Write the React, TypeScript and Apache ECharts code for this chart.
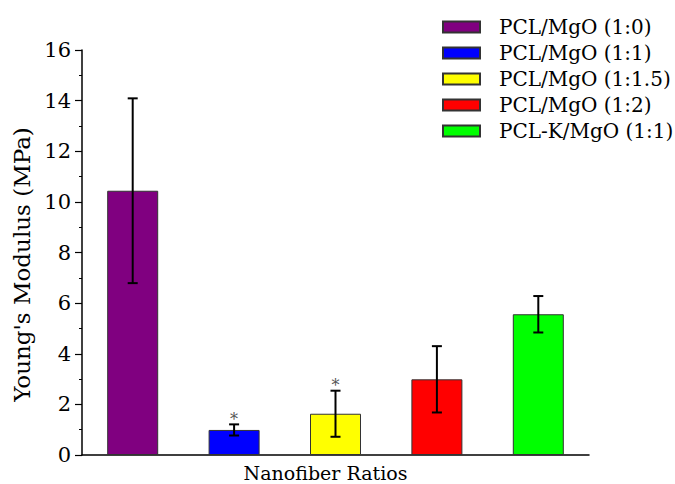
import React, { useEffect, useRef } from "react";
import * as echarts from "echarts";

const categories = ["PCL/MgO (1:0)", "PCL/MgO (1:1)", "PCL/MgO (1:1.5)", "PCL/MgO (1:2)", "PCL-K/MgO (1:1)"];
const means = [10.44, 0.99, 1.63, 2.99, 5.56];
const errors = [3.65, 0.22, 0.91, 1.31, 0.72];
const significance = ["", "*", "*", "", ""];
const colors = ["#800080", "#0000ff", "#ffff00", "#ff0000", "#00ff00"];
const yTicks = { min: 0, max: 16, interval: 2 };

const FONT = "DejaVu Serif";

export default function App() {
  const ref = useRef<HTMLDivElement>(null);
  useEffect(() => {
    document.body.style.margin = "0";
    if (!ref.current) return;
    const chart = echarts.init(ref.current, undefined, { renderer: "svg", width: 675, height: 484 });
    const barSeries = categories.map((name, i) => ({
      name,
      type: "bar",
      barWidth: 51,
      barGap: "-100%",
      itemStyle: { color: colors[i], borderColor: "#333", borderWidth: 1 },
      data: means.map((v, j) => (j === i ? v : "-")),
      z: 2,
    }));
    const errData = means.map((m, i) => [i, m - errors[i], m + errors[i], significance[i]]);
    chart.setOption({
      animation: false,
      backgroundColor: "#fff",
      textStyle: { fontFamily: FONT },
      grid: { left: 82, right: 86, top: 50, bottom: 29, outerBoundsMode: "none", containLabel: false },
      legend: {
        orient: "vertical",
        left: 437,
        top: 12,
        itemWidth: 37,
        itemHeight: 11,
        itemGap: 6,
        icon: "rect",
        data: categories,
        textStyle: { fontFamily: FONT, fontSize: 20, lineHeight: 20, color: "#000", padding: [0, 0, 0, 14] },
      },
      xAxis: {
        type: "category",
        data: categories,
        name: "Nanofiber Ratios",
        nameLocation: "middle",
        nameGap: 8,
        nameTextStyle: { fontFamily: FONT, fontSize: 19, lineHeight: 19, color: "#000", padding: [0, 20, 0, 0] },
        axisLine: { lineStyle: { color: "#000", width: 1.5 } },
        axisTick: { show: false },
        axisLabel: { show: false },
        splitLine: { show: false },
      },
      yAxis: {
        type: "value",
        min: yTicks.min,
        max: yTicks.max,
        interval: yTicks.interval,
        name: "Young's Modulus (MPa)",
        nameLocation: "middle",
        nameGap: 49,
        nameTextStyle: { fontFamily: FONT, fontSize: 23, color: "#000", padding: [0, 24, 0, 0] },
        axisLine: { show: true, lineStyle: { color: "#000", width: 1.5 } },
        axisTick: { show: true, length: 7, lineStyle: { color: "#000", width: 1.2 } },
        minorTick: { show: true, splitNumber: 2, length: 3, lineStyle: { color: "#000", width: 1 } },
        axisLabel: { fontFamily: FONT, fontSize: 21, color: "#000", margin: 11 },
        splitLine: { show: false },
      },
      series: [
        ...barSeries,
        {
          type: "custom",
          name: "err",
          z: 5,
          data: errData,
          renderItem: (params: any, api: any) => {
            const idx = api.value(0);
            const lo = api.coord([idx, api.value(1)]);
            const hi = api.coord([idx, api.value(2)]);
            const sig = significance[params.dataIndex];
            const cap = 5;
            const style = { stroke: "#000", lineWidth: 2 };
            const children: any[] = [
              { type: "line", shape: { x1: hi[0], y1: hi[1], x2: lo[0], y2: lo[1] }, style },
              { type: "line", shape: { x1: hi[0] - cap, y1: hi[1], x2: hi[0] + cap, y2: hi[1] }, style },
              { type: "line", shape: { x1: lo[0] - cap, y1: lo[1], x2: lo[0] + cap, y2: lo[1] }, style },
            ];
            if (sig) {
              children.push({
                type: "text",
                x: hi[0],
                y: hi[1] + 3,
                style: { text: sig, fontFamily: FONT, fontSize: 16, fill: "#555", align: "center", verticalAlign: "bottom" },
              });
            }
            return { type: "group", children };
          },
        },
      ],
    });
    return () => chart.dispose();
  }, []);
  return <div ref={ref} style={{ position: "fixed", left: 0, top: 0, width: 675, height: 484 }} />;
}
